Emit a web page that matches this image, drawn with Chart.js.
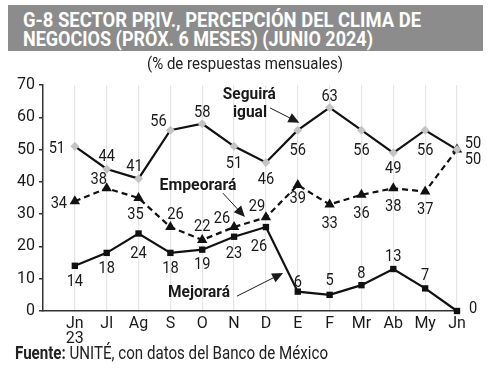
<!DOCTYPE html>
<html><head><meta charset="utf-8">
<script src="https://cdn.jsdelivr.net/npm/chart.js@4/dist/chart.umd.min.js"></script>
<style>
html,body{margin:0;padding:0;background:#fff;}
#wrap{position:relative;width:500px;height:373px;overflow:hidden;font-family:Roboto,"DejaVu Sans",sans-serif;}
#tbox{position:absolute;left:8px;top:5px;width:475px;height:46px;background:#8c8c8c;}
.fit{position:absolute;display:inline-block;white-space:nowrap;transform-origin:0 0;line-height:1;}
.t{color:#fff;font-weight:bold;font-size:21px;left:23px;}
#sub{font-size:17px;color:#222;left:147px;top:55px;}
#src{font-size:18px;color:#222;left:15px;top:344px;}
canvas{position:absolute;left:0;top:0;}
</style></head><body>
<div id="wrap">
<canvas id="c" width="500" height="373"></canvas>
<div id="tbox"></div>
<span class="fit t" id="t1" data-w="398" style="top:10px">G-8 SECTOR PRIV., PERCEPCIÓN DEL CLIMA DE</span>
<span class="fit t" id="t2" data-w="350" style="top:29px">NEGOCIOS (PRÓX. 6 MESES) (JUNIO 2024)</span>
<span class="fit" id="sub" data-w="196">(% de respuestas mensuales)</span>
<span class="fit" id="src" data-w="313"><b>Fuente:</b> UNITÉ, con datos del Banco de México</span>
</div>
<script>
document.querySelectorAll('.fit').forEach(el=>{
  const w=el.getBoundingClientRect().width;
  el.style.transform='scaleX('+(parseFloat(el.dataset.w)/w)+')';
});

const months = [['Jn','23'],'Jl','Ag','S','O','N','D','E','F','Mr','Ab','My','Jn'];
const seguiraIgual = [51,44,41,56,58,51,46,56,63,56,49,56,50];
const empeorara   = [34,38,35,26,22,26,29,39,33,36,38,37,50];
const mejorara    = [14,18,24,18,19,23,26,6,5,8,13,7,0];
const yTicks = [0,10,20,30,40,50,60,70];

// label offsets (px) relative to each point
const offSeg = [[-18,1],[0,-13],[-4,-13],[-12,-9],[0,-12],[0,16],[0,16],[0,20],[0,-12],[0,20],[0,15],[0,20],[16,-7]];
const offEmp = [[-16,2],[-8,-10],[-3,16],[5,-13],[0,-14],[-12,-9],[-9,-12],[0,13],[0,18],[0,18],[0,17],[0,17],[16,9]];
const offMej = [[0,15],[0,15],[0,19],[0,15],[0,14],[0,16],[-7,19],[0,-10],[0,-15],[0,-12],[0,-13],[0,-14],[16,-3]];

const FONT = 'Roboto,"DejaVu Sans",sans-serif';
const pts = arr => arr.map((v,i)=>({x:i,y:v}));

function textScaled(ctx,txt,x,y,sx){
  ctx.save();ctx.translate(x,y);ctx.scale(sx,1);ctx.fillText(txt,0,0);ctx.restore();
}
function textFit(ctx,txt,x,y,w){
  textScaled(ctx,txt,x,y,w/ctx.measureText(txt).width);
}

const labelsPlugin = {
  id:'lbl',
  afterDatasetsDraw(chart){
    const ctx = chart.ctx;
    const offs=[offSeg,offEmp,offMej];
    ctx.save();
    ctx.font = '17px '+FONT;
    ctx.fillStyle='#1a1a1a';
    ctx.textAlign='center';ctx.textBaseline='middle';
    chart.data.datasets.forEach((ds,di)=>{
      const meta = chart.getDatasetMeta(di);
      meta.data.forEach((el,i)=>{
        const o = offs[di][i];
        textScaled(ctx,String(ds.data[i].y), el.x+o[0], el.y+o[1]+1, 0.86);
      });
    });
    // annotations
    const xs=chart.scales.x, ys=chart.scales.y;
    const P=(i,v)=>[xs.getPixelForValue(i),ys.getPixelForValue(v)];
    ctx.font='bold 17px '+FONT;
    let p=P(5.48,66.9); textFit(ctx,'Seguirá',p[0],p[1],53);
    p=P(5.5,61.4); textFit(ctx,'igual',p[0],p[1],34);
    p=P(3.87,38.7); textFit(ctx,'Empeorará',p[0],p[1],77);
    p=P(3.9,5.6); textFit(ctx,'Mejorará',p[0],p[1],62);
    const arrow=(a,b)=>{
      const A=P(a[0],a[1]),B=P(b[0],b[1]);
      const ang=Math.atan2(B[1]-A[1],B[0]-A[0]);
      ctx.strokeStyle='#1a1a1a';ctx.lineWidth=1;
      ctx.beginPath();ctx.moveTo(A[0],A[1]);ctx.lineTo(B[0]-7*Math.cos(ang),B[1]-7*Math.sin(ang));ctx.stroke();
      ctx.beginPath();
      ctx.moveTo(B[0],B[1]);
      ctx.lineTo(B[0]-11*Math.cos(ang)+5*Math.sin(ang),B[1]-11*Math.sin(ang)-5*Math.cos(ang));
      ctx.lineTo(B[0]-11*Math.cos(ang)-5*Math.sin(ang),B[1]-11*Math.sin(ang)+5*Math.cos(ang));
      ctx.closePath();ctx.fill();
    };
    arrow([6.13,62.9],[7.05,58.3]);
    arrow([4.65,36.5],[5.34,29.1]);
    arrow([5.09,4.6],[6.54,11.8]);
    ctx.restore();
  }
};

new Chart(document.getElementById('c'),{
  type:'line',
  data:{datasets:[
    {label:'Seguirá igual',data:pts(seguiraIgual),borderColor:'#111',borderWidth:2.2,pointStyle:'rectRot',pointRadius:4.5,pointBackgroundColor:'#c4c4c4',pointBorderColor:'#c4c4c4',pointBorderWidth:0,tension:0,clip:false},
    {label:'Empeorará',data:pts(empeorara),borderColor:'#111',borderWidth:2.2,borderDash:[6,4],pointStyle:'triangle',pointRadius:6,pointBackgroundColor:'#111',pointBorderColor:'#111',pointBorderWidth:0,tension:0,clip:false},
    {label:'Mejorará',data:pts(mejorara),borderColor:'#111',borderWidth:2.2,pointStyle:'rect',pointRadius:4.5,pointBackgroundColor:'#111',pointBorderColor:'#111',pointBorderWidth:0,tension:0,clip:false}
  ]},
  options:{
    responsive:false,animation:false,
    layout:{padding:{left:0,top:85,right:43,bottom:0}},
    plugins:{legend:{display:false},tooltip:{enabled:false}},
    scales:{
      x:{type:'linear',min:-1,max:12,
        afterBuildTicks(s){s.ticks=months.map((m,i)=>({value:i}));},
        afterFit(s){s.height=62;},
        ticks:{autoSkip:false,maxRotation:0,padding:5,color:'#1a1a1a',font:{family:FONT,size:16,lineHeight:0.95},
          callback:(v)=>months[v]},
        grid:{color:'#e6e6e6',lineWidth:1.2,drawTicks:false},
        border:{color:'#333',width:1.5}
      },
      y:{min:0,max:70,
        afterBuildTicks(s){s.ticks=yTicks.map(v=>({value:v}));},
        afterFit(s){s.width=43;},
        ticks:{padding:4,color:'#1a1a1a',font:{family:FONT,size:16}},
        grid:{drawOnChartArea:false,drawTicks:true,tickLength:4,color:'#333',lineWidth:1.5},
        border:{color:'#333',width:1.5}
      }
    }
  },
  plugins:[labelsPlugin]
});
</script>
</body></html>
